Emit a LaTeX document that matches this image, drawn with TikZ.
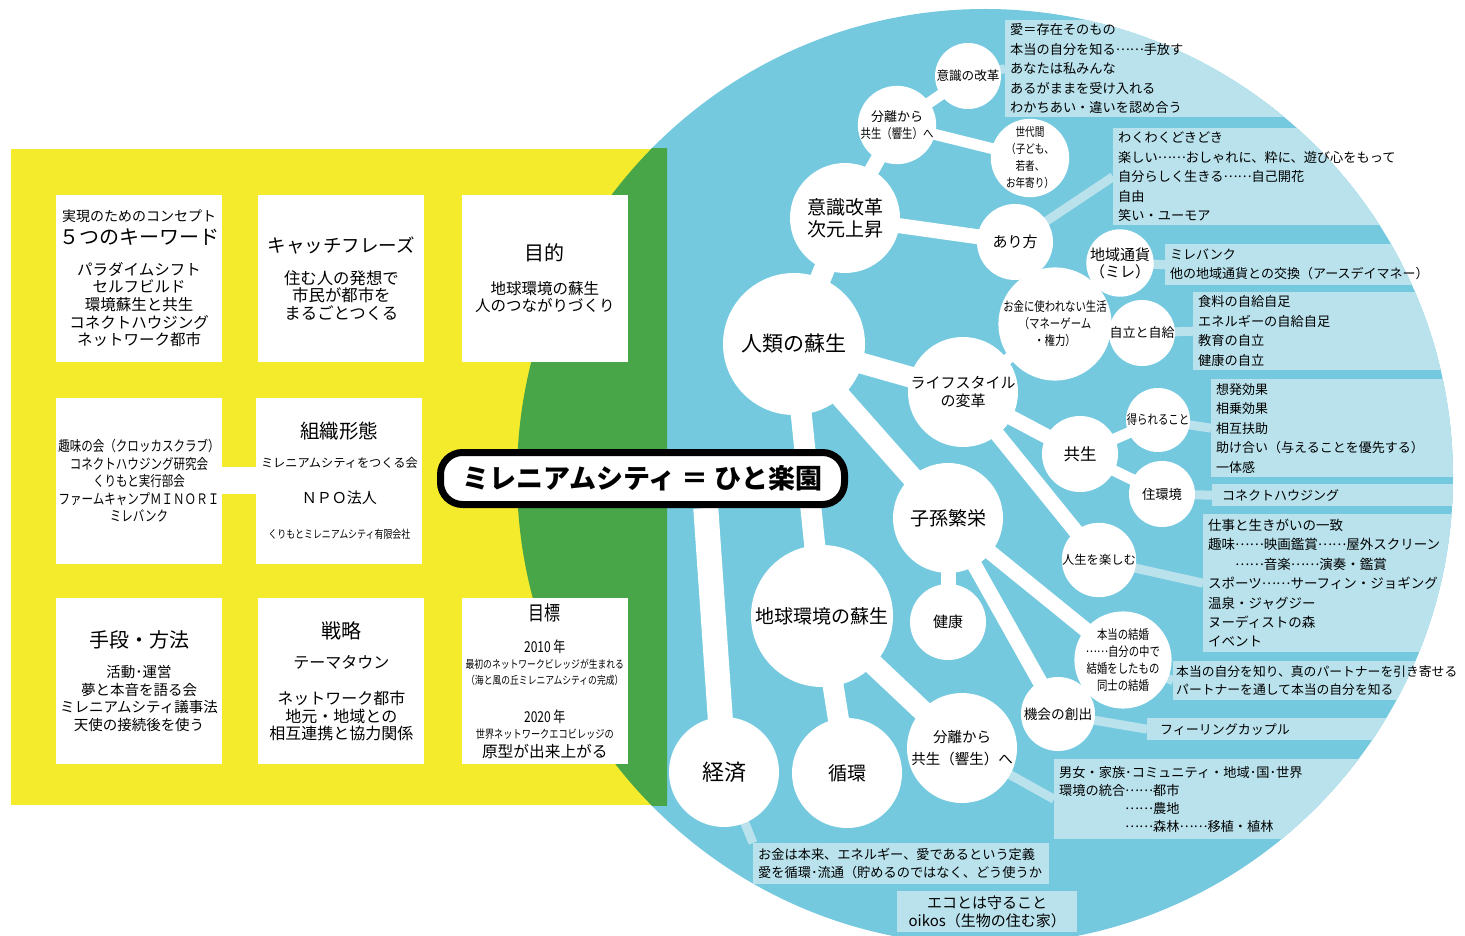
\documentclass[tikz,border=0pt]{standalone}
\usepackage{fontspec}
\setmainfont{Noto Sans CJK JP}
\newfontfamily\cond{Noto Sans CJK JP}[FakeStretch=0.8]
\usepackage{tikz}
\usetikzlibrary{positioning}

\definecolor{yel}{RGB}{245,235,45}
\definecolor{grn}{RGB}{72,166,73}
\definecolor{blu}{RGB}{116,201,223}
\definecolor{lblu}{RGB}{185,226,237}
\newcommand{\fz}[2]{\fontsize{#1}{#2}\selectfont}
\newcommand{\dd}{\raisebox{0.3em}{……}}

\pgfdeclarelayer{panels}
\pgfdeclarelayer{links}
\pgfsetlayers{panels,links,main}

\begin{document}
\begin{tikzpicture}[x=1pt, y=-1pt,
    panel/.style={%
      rectangle, fill=white, minimum width=166pt, minimum height=166pt,
      inner sep=0pt, align=center
    },
    bub/.style={%
      circle, fill=white, inner sep=0pt, align=center
    },
    note/.style={%
      rectangle, anchor=north west, inner xsep=5pt, inner ysep=0pt,
      text width=450pt, align=left, font=\fz{13.2}{19.5}
    },
    ttl/.style={%
      rectangle, draw=black, line width=7pt, fill=white, rounded corners=22pt,
      minimum width=404pt, minimum height=52pt, inner sep=0pt,
      font=\bfseries\fz{27}{30}
    },
    big/.style={white, line width=21pt},
    mid/.style={white, line width=15pt},
    thin/.style={white, line width=11pt},
    lnk/.style={lblu, line width=9pt}
]
    \useasboundingbox (0,0) rectangle (1465,936);

    % left panels
    \node[panel, font=\fz{15.5}{17.6}] (p1) at (139,278.5)
      {{\fz{14}{16}実現のためのコンセプト}\\[4.7pt]{\fz{20}{22}５つのキーワード}\\[13.7pt]パラダイムシフト\\セルフビルド\\環境蘇生と共生\\コネクトハウジング\\ネットワーク都市};
    \node[panel, font=\fz{16.4}{17.6}] (p2) [right=36pt of p1]
      {{\fz{18.5}{20}キャッチフレーズ}\\[14.6pt]住む人の発想で\\市民が都市を\\まるごとつくる};
    \node[panel, font=\fz{15.5}{17.6}] (p3) [right=37pt of p2]
      {{\fz{20}{22}目的}\\[15.7pt]地球環境の蘇生\\人のつながりづくり};
    \node[panel, font=\cond\fz{14.4}{17.5}] (p4) [below=36pt of p1]
      {趣味の会（クロッカスクラブ）\\コネクトハウジング研究会\\くりもと実行部会\\ファームキャンプＭＩＮＯＲＩ\\ミレバンク};
    \node[panel, font=\fz{12.2}{17.6}] (p5) [right=34pt of p4]
      {{\fz{19.5}{22}組織形態}\\[11.6pt]ミレニアムシティをつくる会\\[18.5pt]{\fz{15}{17}ＮＰＯ法人}\\[17.1pt]{\cond\fz{11.2}{12}くりもとミレニアムシティ有限会社}};
    \node[panel, font=\fz{14.5}{17.6}] (p6) [below=34pt of p4]
      {{\fz{20}{22}手段・方法}\\[12.3pt]活動･運営\\夢と本音を語る会\\ミレニアムシティ議事法\\天使の接続後を使う};
    \node[panel, font=\fz{16}{17.6}] (p7) [right=36pt of p6]
      {{\fz{20}{22}戦略}\\[12.9pt]テーマタウン\\[18.4pt]ネットワーク都市\\地元・地域との\\相互連携と協力関係};
    \node[panel, font=\cond\fz{11}{16}] (p8) [right=37pt of p7]
      {{\fz{20}{22}目標}\\[16.1pt]{\fz{15}{17}2010 年}\\最初のネットワークビレッジが生まれる\\（海と風の丘ミレニアムシティの完成）\\[22.3pt]{\fz{15}{17}2020 年}\\{\fz{11.5}{12}世界ネットワークエコビレッジの}\\[3.4pt]{\rmfamily\fz{15.7}{17}原型が出来上がる}};

    \node[ttl] (t) at (642.5,478.5) {ミレニアムシティ ＝ ひと楽園};

    % bubbles
    \node[bub, minimum size=142pt, font=\fz{21}{24}] (b1) at (794,344) {人類の蘇生};
    \node[bub, minimum size=110pt, font=\fz{19}{22}] (b2) at (845,218) {意識改革\\次元上昇};
    \node[bub, minimum size=77pt, font=\fz{12}{17}] (b3) at (897,125) {{\fz{13}{17}分離から}\\{\cond\fz{13}{17}共生（響生）へ}};
    \node[bub, minimum size=66pt, font=\fz{12.6}{15}] (b4) at (968,76) {意識の改革};
    \node[bub, minimum size=68pt, font=\cond\fz{12}{17}] (b5) at (1030,158) {世代間\\（子ども、\\若者、\\お年寄り）};
    \node[bub, minimum size=76pt, font=\fz{15}{18}] (b6) at (1015,242) {あり方};
    \node[bub, minimum size=66pt, font=\fz{15}{17}] (b7) at (1120,263) {地域通貨\\（ミレ）};
    \node[bub, minimum size=76pt, font=\cond\fz{13}{17}] (b8) at (1055,324) {お金に使われない生活\\（マネーゲーム\\・権力）};
    \node[bub, minimum size=66pt, font=\fz{13}{15}] (b9) at (1142,333) {自立と自給};
    \node[bub, minimum size=110pt, font=\fz{15}{18}] (b10) at (963,392) {ライフスタイル\\の変革};
    \node[bub, minimum size=76pt, font=\fz{16.5}{18}] (b11) at (1080,454) {共生};
    \node[bub, minimum size=64pt, font=\cond\fz{13}{15}] (b12) at (1158,420) {得られること};
    \node[bub, minimum size=66pt, font=\fz{13.3}{15}] (b13) at (1162,494) {住環境};
    \node[bub, minimum size=74pt, font=\fz{12.3}{14}] (b14) at (1099,560) {人生を楽しむ};
    \node[bub, minimum size=76pt, font=\cond\fz{13}{17}] (b15) at (1123,660) {本当の結婚\\\dd 自分の中で\\結婚をしたもの\\同士の結婚};
    \node[bub, minimum size=74pt, font=\fz{13.7}{16}] (b16) at (1058,714) {機会の創出};
    \node[bub, minimum size=110pt, font=\fz{14.5}{22}] (b17) at (962,748) {分離から\\共生（響生）へ};
    \node[bub, minimum size=110pt, font=\fz{22}{24}] (b18) at (724,772) {経済};
    \node[bub, minimum size=110pt, font=\fz{19}{22}] (b19) at (847,773) {循環};
    \node[bub, minimum size=142pt, font=\fz{19}{22}] (b20) at (822,616) {地球環境の蘇生};
    \node[bub, minimum size=110pt, font=\fz{19}{22}] (b21) at (948,518) {子孫繁栄};
    \node[bub, minimum size=76pt, font=\fz{15}{18}] (b22) at (948,622) {健康};

    % notes
    \node[note, minimum height=97pt] (n1) at (1005,20)
      {愛＝存在そのもの\\本当の自分を知る\dd 手放す\\あなたは私みんな\\あるがままを受け入れる\\わかちあい・違いを認め合う};
    \node[note, minimum height=97pt] (n2) at (1113,128)
      {わくわくどきどき\\楽しい\dd おしゃれに、粋に、遊び心をもって\\自分らしく生きる\dd 自己開花\\自由\\笑い・ユーモア};
    \node[note, minimum height=41pt, font=\fz{13}{19}] (n3) at (1165,244)
      {ミレバンク\\他の地域通貨との交換（アースデイマネー）};
    \node[note, minimum height=78pt] (n4) at (1193,292)
      {食料の自給自足\\エネルギーの自給自足\\教育の自立\\健康の自立};
    \node[note, minimum height=98pt, font=\fz{13}{19.5}] (n5) at (1211,379)
      {想発効果\\相乗効果\\相互扶助\\助け合い（与えることを優先する）\\一体感};
    \node[note, minimum height=22pt, inner xsep=10pt, font=\fz{13}{15}] (n6) at (1212,484)
      {コネクトハウジング};
    \node[note, minimum height=138pt, font=\fz{13.5}{19.4}] (n7) at (1203,514)
      {仕事と生きがいの一致\\趣味\dd 映画鑑賞\dd 屋外スクリーン\\　　\dd 音楽\dd 演奏・鑑賞\\スポーツ\dd サーフィン・ジョギング\\温泉・ジャグジー\\ヌーディストの森\\イベント};
    \node[note, minimum height=39pt, inner xsep=3pt, font=\fz{12.8}{18}] (n8) at (1173,661)
      {本当の自分を知り、真のパートナーを引き寄せる\\パートナーを通して本当の自分を知る};
    \node[note, minimum height=22pt, inner xsep=13pt, font=\fz{13}{15}] (n9) at (1147,718)
      {フィーリングカップル};
    \node[note, minimum height=80pt, font=\fz{13.2}{18}] (n10) at (1054,759)
      {男女・家族･コミュニティ・地域･国･世界\\環境の統合\dd 都市\\\phantom{環境の統合}\dd 農地\\\phantom{環境の統合}\dd 森林\dd 移植・植林};
    \node[note, minimum height=41pt, text width=286pt, font=\fz{13.2}{18}] (n11) at (753,843)
      {お金は本来、エネルギー、愛であるという定義\\愛を循環･流通（貯めるのではなく、どう使うか};
    \node[note, minimum height=41pt, text width=170pt, align=center, font=\fz{15}{18}] (n12) at (897,891)
      {エコとは守ること\\oikos（生物の住む家）};

    \begin{pgfonlayer}{panels}
      \fill[blu] (985,477) circle (468pt);
      \fill[yel] (11,149) rectangle (667,805);
      \begin{scope}
        \clip (11,149) rectangle (667,805);
        \fill[grn] (985,477) circle (468pt);
      \end{scope}
      \begin{scope}
        \clip (985,477) circle (468pt);
        \foreach \n in {n1,n2,n3,n4,n5,n6,n7,n8,n9,n10,n11,n12}
          \fill[lblu] (\n.north west) rectangle (\n.south east);
      \end{scope}
    \end{pgfonlayer}

    \begin{pgfonlayer}{links}
      \draw[white, line width=27pt] (p4) -- (p5);
      \draw[white, line width=25pt] (t.-25) -- (b18.center);
      \path[big] (b1.center) edge (b2.center)
                 (b1.center) edge (b10.center)
                 (b1.center) edge (b21.center)
                 (b1.center) edge (b20.center)
                 (b20.center) edge (b19.center)
                 (b20.center) edge (b17.center);
      \path[mid] (b2.center) edge (b3.center)
                 (b2.center) edge (b6.center)
                 (b10.center) edge (b11.center)
                 (b10.center) edge (b14.center)
                 (b21.center) edge (b22.center)
                 (b21.center) edge (b15.center)
                 (b21.center) edge (b16.center);
      \path[thin] (b3.center) edge (b4.center)
                  (b3.center) edge (b5.center)
                  (b10.center) edge (b8.center)
                  (b8.center) edge (b7.center)
                  (b8.center) edge (b9.center)
                  (b11.center) edge (b12.center)
                  (b11.center) edge (b13.center);
      \path[lnk] (b4.center) edge (n1.west)
                 (b6.center) edge (n2.west)
                 (b7.center) edge (n3.west)
                 (b9.center) edge (n4.west)
                 (b12.center) edge (n5.west)
                 (b13.center) edge (n6.west)
                 (b14.center) edge (n7.west)
                 (b15.center) edge (n8.west)
                 (b16.center) edge (n9.west)
                 (b17.center) edge (n10.west)
                 (b18.center) edge (n11.north west);
    \end{pgfonlayer}
\end{tikzpicture}
\end{document}
